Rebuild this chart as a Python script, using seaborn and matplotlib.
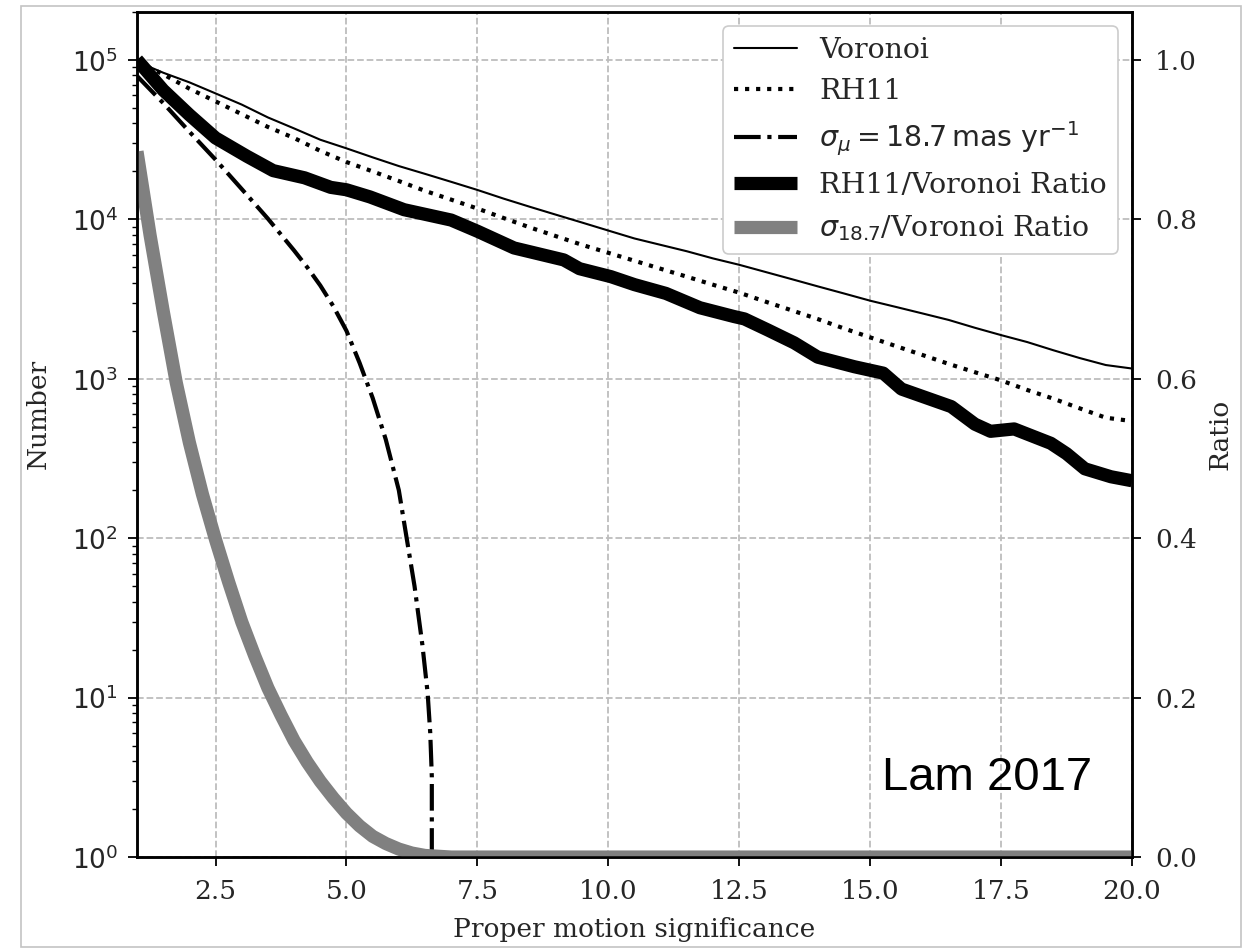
import numpy as np
import matplotlib
matplotlib.use("Agg")
import matplotlib.pyplot as plt
import matplotlib.ticker as mticker
from matplotlib.patches import Rectangle
import seaborn as sns

# ---------------- data ----------------
x_half = [1.0, 1.5, 2.0, 2.5, 3.0, 3.5, 4.0, 4.5, 5.0, 5.5, 6.0, 6.5, 7.0, 7.5,
          8.0, 8.5, 9.0, 9.5, 10.0, 10.5, 11.0, 11.5, 12.0, 12.5, 13.0, 13.5,
          14.0, 14.5, 15.0, 15.5, 16.0, 16.5, 17.0, 17.5, 18.0, 18.5, 19.0,
          19.5, 20.0]

voronoi = [97700, 83200, 72400, 61700, 52500, 43600, 37200, 31600, 27900,
           24500, 21600, 19300, 17200, 15300, 13500, 12000, 10700, 9550, 8510,
           7590, 6920, 6310, 5690, 5190, 4680, 4220, 3800, 3430, 3090, 2820,
           2570, 2340, 2090, 1880, 1700, 1510, 1350, 1220, 1160]

rh11 = [97700, 81300, 66100, 55000, 45700, 38000, 32400, 26900, 22900, 20000,
        17400, 15100, 13300, 11700, 10200, 8910, 7850, 6920, 6170, 5500, 4900,
        4370, 3890, 3470, 3050, 2690, 2370, 2070, 1820, 1600, 1410, 1240, 1100,
        977, 851, 750, 653, 570, 543]

x_rh_ratio = [1.0, 1.5, 2.0, 2.5, 3.1, 3.6, 4.2, 4.7, 5.0, 5.45, 6.1, 7.0,
              7.5, 8.2, 9.15, 9.45, 10.05, 10.5, 11.1, 11.75, 12.4, 12.6,
              13.05, 13.55, 14.0, 14.7, 15.25, 15.6, 16.55, 17.0, 17.3, 17.75,
              18.45, 18.75, 19.1, 19.6, 20.0]
rh11_ratio = [1.000, 0.962, 0.931, 0.902, 0.879, 0.861, 0.852, 0.840, 0.837,
              0.828, 0.812, 0.799, 0.785, 0.764, 0.749, 0.738, 0.728, 0.718,
              0.707, 0.689, 0.678, 0.675, 0.661, 0.645, 0.627, 0.615, 0.607,
              0.587, 0.565, 0.543, 0.534, 0.537, 0.519, 0.506, 0.487, 0.477,
              0.472]

x_sigma = [1.0, 1.5, 2.0, 2.5, 3.0, 3.5, 4.0, 4.25, 4.5, 4.75, 5.0, 5.25, 5.5,
           5.75, 6.0, 6.15, 6.3, 6.45, 6.55, 6.6, 6.63, 6.65]
sigma_187 = [79400, 53700, 35500, 23700, 15500, 10100, 6380, 5010, 3850, 2850,
             2000, 1260, 759, 417, 200, 100, 50, 21.4, 10.7, 6.0, 3.2, 0]

x_sig_ratio = [1.0, 1.25, 1.5, 1.75, 2.0, 2.25, 2.5, 2.75, 3.0, 3.25, 3.5,
               3.75, 4.0, 4.25, 4.5, 4.75, 5.0, 5.25, 5.5, 5.75, 6.0, 6.25,
               6.5, 7.0, 8.0, 10.0, 12.0, 14.0, 16.0, 18.0, 20.0]
sigma_ratio = [0.885, 0.780, 0.685, 0.595, 0.520, 0.455, 0.398, 0.345, 0.295,
               0.252, 0.212, 0.178, 0.146, 0.119, 0.095, 0.074, 0.055, 0.039,
               0.026, 0.017, 0.010, 0.005, 0.002, 0.0, 0.0, 0.0, 0.0, 0.0,
               0.0, 0.0, 0.0]

xticks = [2.5, 5.0, 7.5, 10.0, 12.5, 15.0, 17.5, 20.0]
ratio_ticks = [0.0, 0.2, 0.4, 0.6, 0.8, 1.0]

# ---------------- style ----------------
sns.set_theme(style="ticks")
plt.rcParams["font.family"] = ["DejaVu Serif"]
plt.rcParams["mathtext.fontset"] = "dejavusans"
plt.rcParams["axes.edgecolor"] = "black"
plt.rcParams["axes.linewidth"] = 1.8

fig = plt.figure(figsize=(12.42, 9.51), dpi=100)
fig.patch.set_facecolor("white")
ax = fig.add_axes([0.1103, 0.0988, 0.8011, 0.8886])
ax2 = ax.twinx()

# left axis: counts
sns.lineplot(x=x_half, y=voronoi, ax=ax, color="black", lw=1.5,
             label="Voronoi", sort=False)
sns.lineplot(x=x_half, y=rh11, ax=ax, color="black", lw=3.0, linestyle=":",
             label="RH11", sort=False)
sns.lineplot(x=x_sigma, y=sigma_187, ax=ax, color="black", lw=3.0,
             linestyle="-.", label=r"$\sigma_\mu = 18.7\,\mathrm{mas\ yr}^{-1}$",
             sort=False)

# right axis: ratios
sns.lineplot(x=x_rh_ratio, y=rh11_ratio, ax=ax2, color="black", lw=9.5,
             label="RH11/Voronoi Ratio", sort=False, solid_capstyle="butt")
sns.lineplot(x=x_sig_ratio, y=sigma_ratio, ax=ax2, color="#808080", lw=9.5,
             label=r"$\sigma_{18.7}$/Voronoi Ratio", sort=False,
             solid_capstyle="butt")

ax.set_yscale("log", nonpositive="clip")
ax.set_xlim(1, 20)
ax.set_ylim(1, 2.0e5)
ax2.set_ylim(0, 1.06)

# ticks
ax.xaxis.set_major_locator(mticker.FixedLocator(xticks))
ax.xaxis.set_major_formatter(mticker.FormatStrFormatter("%.1f"))
ax.yaxis.set_major_locator(mticker.LogLocator(base=10, numticks=10))
ax.yaxis.set_minor_locator(mticker.LogLocator(base=10, subs=np.arange(2, 10), numticks=20))
ax.yaxis.set_minor_formatter(mticker.NullFormatter())
ax.yaxis.set_major_formatter(mticker.FuncFormatter(
    lambda v, p: r"$10^{%d}$" % int(round(np.log10(v))) if v > 0 else ""))
ax2.yaxis.set_major_locator(mticker.FixedLocator(ratio_ticks))
ax2.yaxis.set_major_formatter(mticker.FormatStrFormatter("%.1f"))

for a in (ax, ax2):
    a.tick_params(which="major", direction="out", length=6.5, width=1.3,
                  labelsize=19, color="black", pad=7)
    a.tick_params(which="minor", direction="out", length=3.5, width=1.0,
                  color="black")
    for s in a.spines.values():
        s.set_color("black")
        s.set_linewidth(1.8)
ax.tick_params(axis="x", pad=9)
ax2.tick_params(axis="y", pad=10)

ax.grid(True, which="major", axis="both", linestyle="--", color="#bdbdbd",
        lw=1.3)
ax2.grid(False)

ax.set_xlabel("Proper motion significance", fontsize=19, labelpad=10)
ax.set_ylabel("Number", fontsize=19)
ax.yaxis.set_label_coords(-0.087, 0.524)
ax2.set_ylabel("Ratio", fontsize=19, labelpad=8)

# combined legend
h1, l1 = ax.get_legend_handles_labels()
h2, l2 = ax2.get_legend_handles_labels()
if ax.get_legend() is not None:
    ax.get_legend().remove()
if ax2.get_legend() is not None:
    ax2.get_legend().remove()
leg = ax2.legend(h1 + h2, l1 + l2, loc="upper right", fontsize=20.5,
                 frameon=True, fancybox=True, framealpha=1.0,
                 edgecolor="#cccccc", handlelength=2.2, borderpad=0.38,
                 labelspacing=0.5, borderaxespad=0.5)
leg.get_frame().set_linewidth(1.2)

ax2.text(0.749, 0.079, "Lam 2017", transform=ax2.transAxes,
         fontsize=34, family="Liberation Sans", ha="left", va="baseline",
         color="black")

# thin grey screenshot frame
fig.patches.append(Rectangle((20.5 / 1242, 1 - 946.5 / 951),
                             (1240.5 - 20.5) / 1242, (946.5 - 6) / 951,
                             transform=fig.transFigure, fill=False,
                             edgecolor="#c4c4c4", lw=1.2))

fig.savefig("out.png", dpi=100, facecolor="white")
